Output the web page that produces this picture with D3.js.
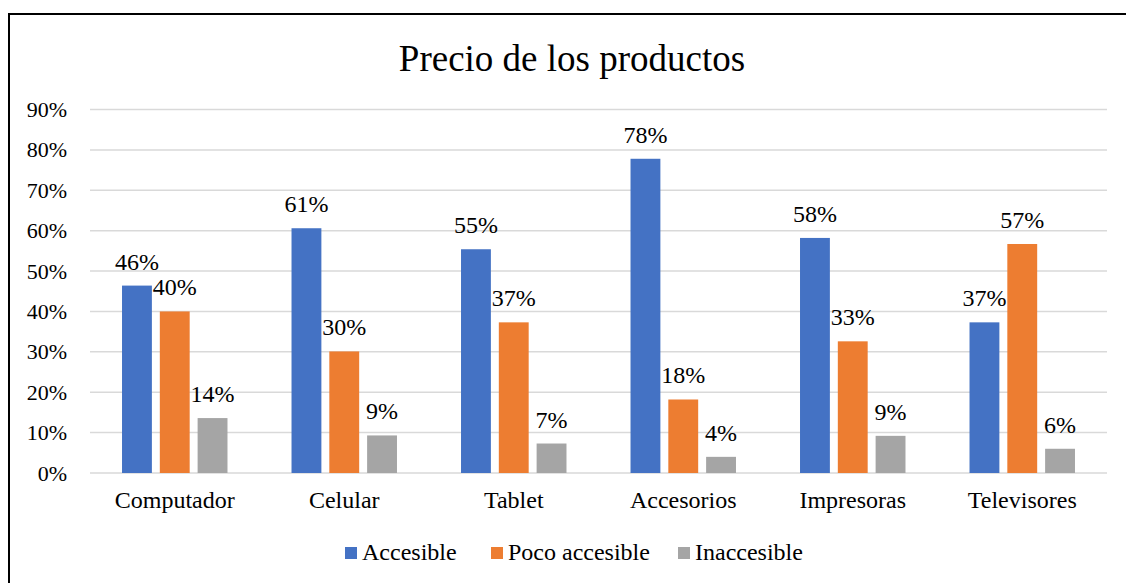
<!DOCTYPE html>
<html>
<head>
<meta charset="utf-8">
<script src="https://cdn.jsdelivr.net/npm/d3@7"></script>
<style>
  body { margin: 0; background: #fff; }
  svg text { font-family: "Liberation Serif", "Times New Roman", serif; }
</style>
</head>
<body>
<div id="chart"></div>
<script>
// data
var categories = ["Computador", "Celular", "Tablet", "Accesorios", "Impresoras", "Televisores"];
var seriesNames = ["Accesible", "Poco accesible", "Inaccesible"];
var accesible = [0.464, 0.606, 0.554, 0.778, 0.582, 0.373];
var pocoAccesible = [0.400, 0.301, 0.373, 0.182, 0.326, 0.567];
var inaccesible = [0.136, 0.093, 0.073, 0.040, 0.092, 0.060];
var yTicks = [0, 0.1, 0.2, 0.3, 0.4, 0.5, 0.6, 0.7, 0.8, 0.9];
var colors = ["#4472C4", "#ED7D31", "#A5A5A5"];

var width = 1126, height = 583;
var plot = { left: 90, right: 1107, top: 109.5, bottom: 473 };

var svg = d3.select("#chart").append("svg")
  .attr("width", width)
  .attr("height", height);

// outer chart border (extends past the right/bottom edge)
svg.append("rect")
  .attr("x", 9).attr("y", 14)
  .attr("width", 1126).attr("height", 600)
  .attr("fill", "none")
  .attr("stroke", "#000")
  .attr("stroke-width", 2);

svg.append("text")
  .attr("x", 572).attr("y", 71)
  .attr("text-anchor", "middle")
  .attr("font-size", 37)
  .attr("fill", "#000")
  .text("Precio de los productos");

var yScale = d3.scaleLinear().domain([0, 0.9]).range([plot.bottom, plot.top]);

var x0 = d3.scaleBand().domain(categories).range([plot.left, plot.right]);

var groupW = 113.4;
var x1 = d3.scaleBand().domain(seriesNames)
  .range([-groupW / 2, groupW / 2])
  .paddingInner(0.21)
  .paddingOuter(0.105);

// gridlines
svg.append("g").selectAll("line")
  .data(yTicks)
  .join("line")
  .attr("x1", plot.left).attr("x2", plot.right)
  .attr("y1", d => yScale(d)).attr("y2", d => yScale(d))
  .attr("stroke", "#D9D9D9")
  .attr("stroke-width", 1.5);

// y axis labels
var yAxis = svg.append("g")
  .attr("transform", "translate(" + plot.left + ",0)")
  .call(d3.axisLeft(yScale).tickValues(yTicks).tickFormat(d3.format(".0%")).tickSize(0).tickPadding(23));
yAxis.select(".domain").remove();
yAxis.selectAll("text")
  .attr("font-size", 22)
  .attr("fill", "#000");

// x axis labels
var xAxis = svg.append("g")
  .attr("transform", "translate(0," + plot.bottom + ")")
  .call(d3.axisBottom(x0).tickSize(0).tickPadding(18));
xAxis.select(".domain").remove();
xAxis.selectAll("text")
  .attr("font-size", 24)
  .attr("fill", "#000");

var rows = categories.map(function (c, i) {
  return { category: c, values: [accesible[i], pocoAccesible[i], inaccesible[i]] };
});

var groups = svg.append("g").selectAll("g")
  .data(rows)
  .join("g")
  .attr("transform", d => "translate(" + (x0(d.category) + x0.bandwidth() / 2) + ",0)");

var cells = groups.selectAll("g")
  .data(d => d.values.map((v, i) => ({ key: seriesNames[i], value: v, i: i })))
  .join("g");

cells.append("rect")
  .attr("x", d => x1(d.key))
  .attr("y", d => yScale(d.value))
  .attr("width", x1.bandwidth())
  .attr("height", d => yScale(0) - yScale(d.value))
  .attr("fill", d => colors[d.i]);

cells.append("text")
  .attr("x", d => x1(d.key) + x1.bandwidth() / 2)
  .attr("y", d => yScale(d.value) - 16)
  .attr("text-anchor", "middle")
  .attr("font-size", 24)
  .attr("fill", "#000")
  .text(d => d3.format(".0%")(d.value));

// legend
var legendX = [345, 491, 678];
var legend = svg.append("g").selectAll("g")
  .data(seriesNames)
  .join("g")
  .attr("transform", (d, i) => "translate(" + legendX[i] + ",547)");

legend.append("rect")
  .attr("width", 12).attr("height", 12)
  .attr("fill", (d, i) => colors[i]);

legend.append("text")
  .attr("x", 17).attr("y", 13)
  .attr("font-size", 24)
  .attr("fill", "#000")
  .text(d => d);
</script>
</body>
</html>
